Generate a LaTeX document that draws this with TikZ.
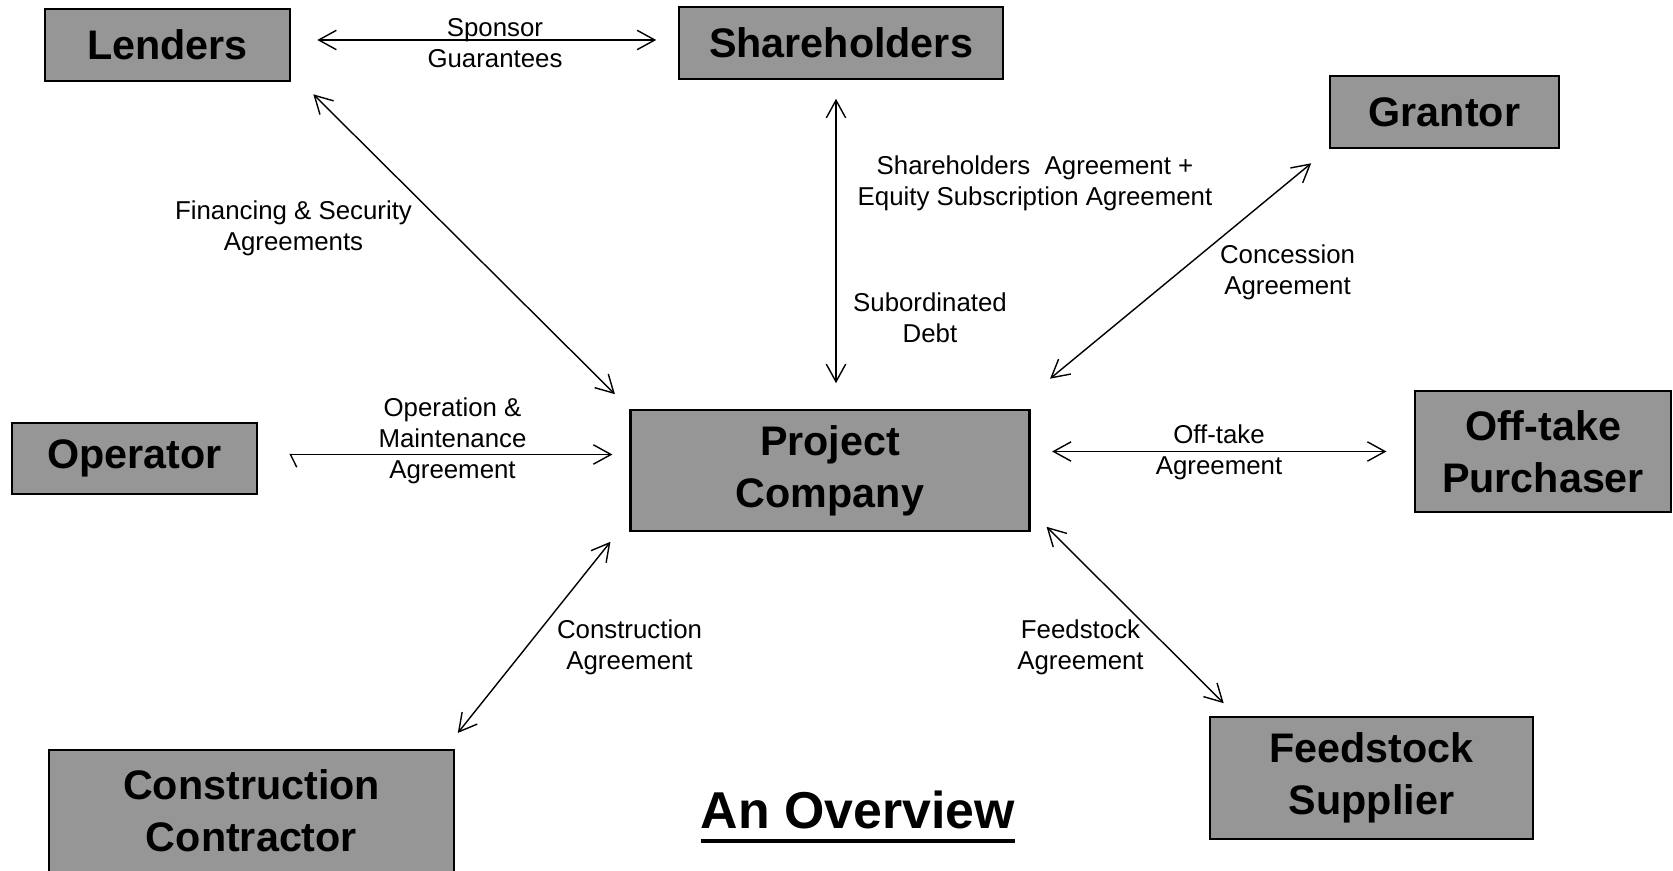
\documentclass[tikz,border=0pt]{standalone}
\usepackage{fontspec}
\setmainfont{Liberation Sans}
\usetikzlibrary{arrows.meta, positioning, calc}
\definecolor{boxgray}{RGB}{150,150,150}

\begin{document}
\begin{tikzpicture}[
  party/.style={draw=black, line width=1.2pt, fill=boxgray, align=center, inner sep=0pt,
    font=\fontsize{23.5}{29.5}\selectfont\bfseries},
  deal/.style={align=center, inner sep=0pt, font=\fontsize{14.7}{17.6}\selectfont},
  link/.style={<->, line width=0.8pt, >={Straight Barb[length=10pt,width=11pt]}},
  halflink/.style={line width=0.8pt,
    {Straight Barb[harpoon,length=3.6pt,width=14.5pt]}-{Straight Barb[length=10pt,width=11pt]}}
]
\useasboundingbox (0,0) rectangle (33.46,17.4);
\fill[white] (0,0) rectangle (33.46,17.4);

% Parties
\node[party, minimum width=4.91cm, minimum height=1.45cm] (lend) at (3.35,16.50) {Lenders};
\node[party, minimum width=6.49cm, minimum height=1.43cm] (share) at (16.82,16.54) {Shareholders};
\node[party, minimum width=4.57cm, minimum height=1.45cm] (grant) at (28.89,15.16) {Grantor};
\node[party, minimum width=4.91cm, minimum height=1.43cm] (oper) at (2.69,8.23) {Operator};
\node[party, minimum width=7.98cm, minimum height=2.43cm] (pc) at (16.60,7.99) {Project\\Company};
\node[party, minimum width=5.12cm, minimum height=2.43cm] (offt) at (30.86,8.37) {Off-take\\Purchaser};
\node[party, minimum width=8.09cm, minimum height=2.44cm] (constr) at (5.03,1.18) {Construction\\Contractor};
\node[party, minimum width=6.47cm, minimum height=2.43cm] (feed) at (27.43,1.84) {Feedstock\\Supplier};

% Agreements
\node[deal] (spons) at (9.90,16.54) {Sponsor\\Guarantees};
\node[deal] (fin) at (5.87,12.83) {Financing \& Security\\Agreements};
\node[deal] (sha) at (20.70,13.73) {Shareholders~ Agreement +\\Equity Subscription Agreement};
\node[deal] (sub) at (18.60,11.05) {Subordinated\\Debt};
\node[deal] (conc) at (25.75,11.95) {Concession\\Agreement};
\node[deal] (om) at (9.05,8.58) {Operation \&\\Maintenance\\Agreement};
\node[deal] (offa) at (24.38,8.36) {Off-take\\Agreement};
\node[deal] (cona) at (12.59,4.45) {Construction\\Agreement};
\node[deal] (feeda) at (21.61,4.45) {Feedstock\\Agreement};

% Links
\draw[link, shorten <=0.52cm, shorten >=0.43cm] ([yshift=1mm]lend.east) -- ([yshift=1mm]lend.east -| share.west);
\draw[link] ([shift={(0.44,-0.24)}]lend.south east) -- ([shift={(-0.29,0.29)}]pc.north west);
\draw[link, shorten <=0.38cm, shorten >=0.51cm] ([xshift=-1mm]share.south) -- ([xshift=-1mm]share.south |- pc.north);
\draw[link] ([shift={(-0.36,-0.28)}]grant.south west) -- ([shift={(0.39,0.6)}]pc.north east);
\draw[halflink, shorten <=0.62cm, shorten >=0.34cm] ([yshift=0.8mm]oper.east) -- ([yshift=0.8mm]oper.east -| pc.west);
\draw[link, shorten <=0.43cm, shorten >=0.55cm] (offt.west -| pc.east) -- (offt.west);
\draw[link] ([shift={(-0.38,-0.19)}]pc.south west) -- ([shift={(0.06,0.32)}]constr.north east);
\draw[link] ([shift={(0.32,0.11)}]pc.south east) -- ([shift={(0.3,0.26)}]feed.north west);

% Heading
\node[font=\fontsize{29.5}{35}\selectfont\bfseries, inner sep=0pt, anchor=base] (title) at (17.16,0.84) {An Overview};
\draw[line width=2.5pt] ([yshift=-7.4pt]title.base west) -- ([yshift=-7.4pt]title.base east);
\end{tikzpicture}
\end{document}
